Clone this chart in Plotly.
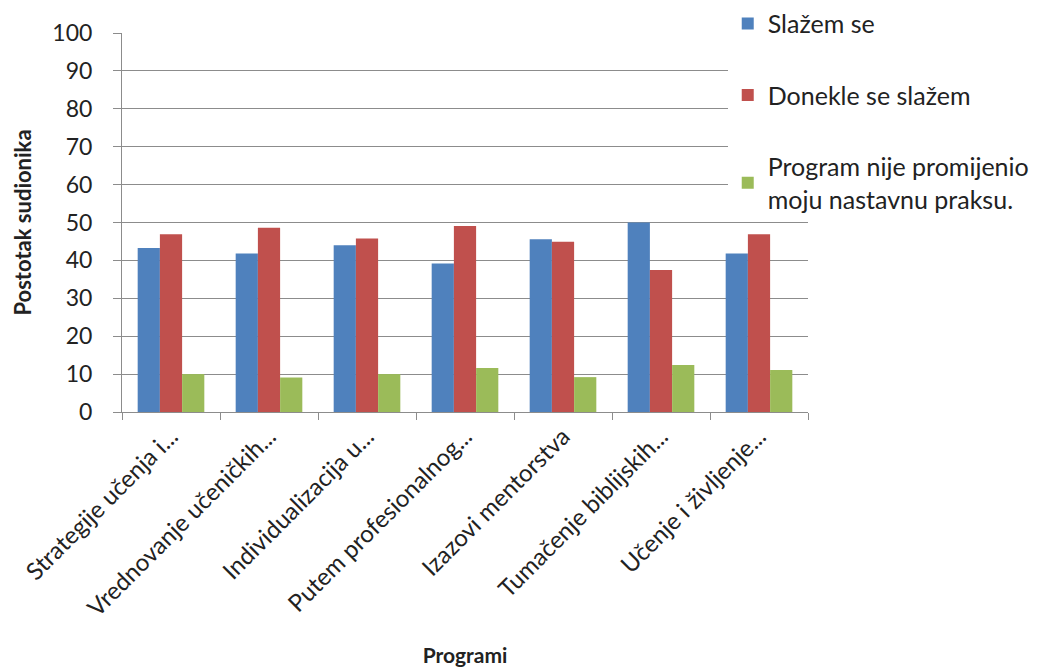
import plotly.graph_objects as go

# Programs (truncated the same way the axis shows them)
programi = [
    "Strategije učenja i...",
    "Vrednovanje učeničkih...",
    "Individualizacija u...",
    "Putem profesionalnog...",
    "Izazovi mentorstva",
    "Tumačenje biblijskih...",
    "Učenje i življenje...",
]

# Share of participants (%) per answer
slazem_se = [43.3, 41.8, 44.0, 39.2, 45.6, 50.0, 41.8]
donekle = [46.9, 48.6, 45.8, 49.1, 44.9, 37.5, 46.9]
nije_promijenio = [10.0, 9.1, 10.0, 11.6, 9.2, 12.4, 11.1]

y_ticks = [0, 10, 20, 30, 40, 50, 60, 70, 80, 90, 100]

FONT = "Lato, 'Open Sans', sans-serif"

fig = go.Figure()
series = [
    ("Slažem se", slazem_se, "#4F81BD"),
    ("Donekle se slažem", donekle, "#C0504D"),
    ("Program nije promijenio<br>moju nastavnu praksu.", nije_promijenio, "#9BBB59"),
]
for i, (name, vals, col) in enumerate(series):
    fig.add_trace(go.Bar(
        x=programi, y=vals, name=name, marker_color=col,
        marker_line_width=0, legendgroup=str(i),
    ))

fig.update_layout(
    width=1045, height=668,
    margin=dict(l=122, r=237, t=33, b=256, autoexpand=False),
    paper_bgcolor="white", plot_bgcolor="white",
    barmode="group", bargap=0.32, bargroupgap=0,
    font=dict(family=FONT, size=24, color="#222"),
    legend=dict(
        x=0.883, y=1.085, xanchor="left", yanchor="top",
        bgcolor="white", font=dict(size=25, color="#222"),
        tracegroupgap=36, traceorder="grouped",
        itemwidth=30,
    ),
)

fig.update_yaxes(
    range=[0, 100], tickvals=y_ticks,
    showgrid=True, gridcolor="#8c8c8c", gridwidth=1,
    showline=True, linecolor="#8c8c8c", linewidth=1,
    ticks="outside", ticklen=8, tickcolor="#8c8c8c",
    ticklabelstandoff=16,
    tickfont=dict(size=23, color="#222"),
    title=dict(text="<b>Postotak sudionika</b>", font=dict(size=22, color="#222"), standoff=14),
    zeroline=False,
)
fig.update_xaxes(
    showline=True, linecolor="#8c8c8c", linewidth=1,
    ticks="outside", ticklen=7, tickcolor="#8c8c8c", tickson="boundaries",
    tickangle=-45, tickfont=dict(size=24, color="#222"),
    title=dict(text="<b>Programi</b>", font=dict(size=21, color="#222"), standoff=27),
)

fig.write_html("out.html")
